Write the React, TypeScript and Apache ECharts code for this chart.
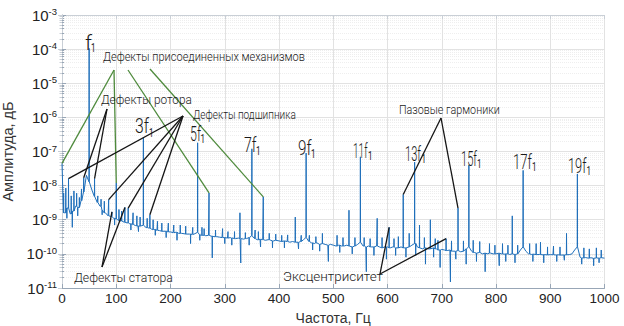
import React, { useEffect, useRef } from "react";
import * as echarts from "echarts";

// Noise floor of the spectrum: [frequency, Hz ; amplitude]
const floorSpectrum: [number, number][] = [
  [0, 4.5e-8], [5, 1.6e-9], [10, 2.2e-9], [15, 1.5e-9], [20, 1.8e-9], [25, 2.5e-9], [30, 2.3e-9],
  [35, 3.6e-9], [40, 6.5e-9], [45, 2.0e-8], [50, 1.3e-8], [55, 7.5e-9], [60, 4.8e-9], [65, 3.2e-9],
  [70, 2.5e-9], [75, 1.9e-9], [80, 1.6e-9], [85, 1.3e-9], [90, 1.25e-9], [95, 1.1e-9], [100, 1.05e-9],
  [105, 9.5e-10], [110, 9.2e-10], [115, 8.4e-10], [120, 8.1e-10], [125, 7.6e-10], [130, 7.3e-10],
  [135, 6.8e-10], [140, 6.6e-10], [145, 6.5e-10], [150, 6.9e-10], [155, 5.9e-10], [160, 5.7e-10],
  [165, 5.3e-10], [170, 5.2e-10], [175, 4.9e-10], [180, 4.8e-10], [185, 4.6e-10], [190, 4.6e-10],
  [195, 4.4e-10], [200, 4.4e-10], [205, 4.2e-10], [210, 4.3e-10], [215, 4.0e-10], [220, 4.0e-10],
  [225, 3.9e-10], [230, 3.8e-10], [235, 3.8e-10], [240, 3.7e-10], [245, 3.9e-10], [250, 4.3e-10],
  [255, 3.6e-10], [260, 3.5e-10], [265, 3.4e-10], [270, 3.5e-10], [275, 3.3e-10], [280, 3.2e-10],
  [285, 3.2e-10], [290, 3.1e-10], [295, 3.0e-10], [300, 3.0e-10], [305, 2.9e-10], [310, 3.0e-10],
  [315, 2.9e-10], [320, 2.8e-10], [325, 2.9e-10], [330, 2.8e-10], [335, 2.7e-10], [340, 2.8e-10],
  [345, 3.0e-10], [350, 3.4e-10], [355, 2.8e-10], [360, 2.6e-10], [365, 2.7e-10], [370, 2.6e-10],
  [375, 2.5e-10], [380, 2.6e-10], [385, 2.5e-10], [390, 2.4e-10], [395, 2.5e-10], [400, 2.4e-10],
  [405, 2.3e-10], [410, 2.4e-10], [415, 2.3e-10], [420, 2.2e-10], [425, 2.3e-10], [430, 2.2e-10],
  [435, 2.2e-10], [440, 2.3e-10], [445, 2.6e-10], [450, 3.0e-10], [455, 2.3e-10], [460, 2.1e-10],
  [465, 2.0e-10], [470, 2.1e-10], [475, 1.9e-10], [480, 2.0e-10], [485, 1.9e-10], [490, 1.8e-10],
  [495, 1.9e-10], [500, 1.8e-10], [505, 1.7e-10], [510, 1.8e-10], [515, 1.7e-10], [520, 1.7e-10],
  [525, 1.8e-10], [530, 1.7e-10], [535, 1.6e-10], [540, 1.7e-10], [545, 1.9e-10], [550, 2.2e-10],
  [555, 1.7e-10], [560, 1.6e-10], [565, 1.7e-10], [570, 1.6e-10], [575, 1.6e-10], [580, 1.7e-10],
  [585, 1.6e-10], [590, 1.5e-10], [595, 1.6e-10], [600, 1.6e-10], [605, 1.5e-10], [610, 1.6e-10],
  [615, 1.5e-10], [620, 1.5e-10], [625, 1.6e-10], [630, 1.5e-10], [635, 1.5e-10], [640, 1.6e-10],
  [645, 1.8e-10], [650, 2.0e-10], [655, 1.6e-10], [660, 1.5e-10], [665, 1.4e-10], [670, 1.5e-10],
  [675, 1.4e-10], [680, 1.4e-10], [685, 1.5e-10], [690, 1.4e-10], [695, 1.3e-10], [700, 1.35e-10],
  [705, 1.3e-10], [710, 1.25e-10], [715, 1.3e-10], [720, 1.2e-10], [725, 1.2e-10], [730, 1.25e-10],
  [735, 1.15e-10], [740, 1.2e-10], [745, 1.4e-10], [750, 1.6e-10], [755, 1.2e-10], [760, 1.1e-10],
  [765, 1.05e-10], [770, 1.1e-10], [775, 1.0e-10], [780, 1.05e-10], [785, 1.0e-10], [790, 1.05e-10],
  [795, 1.0e-10], [800, 1.0e-10], [805, 1.05e-10], [810, 1.0e-10], [815, 9.8e-11], [820, 1.0e-10],
  [825, 9.6e-11], [830, 1.0e-10], [835, 9.6e-11], [840, 1.0e-10], [845, 1.3e-10], [850, 1.6e-10],
  [855, 1.2e-10], [860, 1.0e-10], [865, 9.6e-11], [870, 9.8e-11], [875, 9.5e-11], [880, 9.6e-11],
  [885, 9.4e-11], [890, 9.5e-11], [895, 9.3e-11], [900, 9.5e-11], [905, 9.4e-11], [910, 9.3e-11],
  [915, 9.4e-11], [920, 9.2e-11], [925, 9.3e-11], [930, 9.4e-11], [935, 9.5e-11], [940, 1.0e-10],
  [945, 1.3e-10], [950, 1.6e-10], [955, 8.0e-11], [960, 7.6e-11], [965, 7.8e-11], [970, 7.5e-11],
  [975, 7.7e-11], [980, 7.4e-11], [985, 7.6e-11], [990, 7.5e-11], [995, 7.7e-11], [1000, 7.5e-11],
];

// Odd harmonics of the supply frequency f1 = 50 Hz
const harmonicPeaks: [number, number][] = [
  [50, 1.05e-4], [150, 2.6e-7], [250, 1.8e-7], [350, 1.2e-7], [450, 9e-8],
  [550, 7e-8], [650, 4.9e-8], [750, 4e-8], [850, 2.8e-8], [950, 2.2e-8],
];
const harmonicNames = ["f", "3f", "5f", "7f", "9f", "11f", "13f", "15f", "17f", "19f"];

// Defect-related components
const defectPeaks: [number, number][] = [
  [12, 1.6e-8], [40, 1.7e-8], [60, 1.6e-8], [86, 3.9e-9], [92, 1.7e-9], [100, 1.2e-8],
  [116, 2.3e-9], [122, 2.2e-9], [162, 1.4e-9], [271, 6.1e-9], [328, 1.6e-9], [371, 4.7e-9],
  [430, 1.2e-9], [529, 1.9e-9], [581, 1.1e-9], [603, 6e-10], [629, 5.5e-9], [659, 7e-10],
  [679, 1e-9], [708, 2.8e-10], [730, 2.2e-9], [830, 1.3e-9], [930, 4e-10],
];

// Small noise components (upward)
const noisePeaks: [number, number][] = [
  [3, 6e-9], [7, 8.5e-9], [17, 5e-9], [22, 7e-9], [27, 6e-9], [32, 4.5e-9], [36, 8e-9],
  [66, 5e-9], [72, 4e-9], [78, 3.5e-9], [105, 2e-9], [110, 1.8e-9], [131, 1.6e-9], [138, 1.3e-9],
  [144, 1.2e-9], [157, 1.1e-9], [168, 1e-9], [176, 9e-10], [184, 8e-10], [196, 8e-10],
  [206, 7e-10], [218, 7e-10], [228, 6.5e-10], [241, 6e-10], [258, 6e-10], [262, 5.5e-10],
  [283, 5e-10], [296, 5.5e-10], [306, 4.5e-10], [318, 4.5e-10], [338, 4.2e-10], [356, 5e-10],
  [362, 4.5e-10], [382, 4e-10], [394, 3.8e-10], [405, 3.5e-10], [416, 3.6e-10], [441, 3.5e-10],
  [456, 3.5e-10], [468, 3.2e-10], [480, 4e-10], [507, 3.5e-10], [518, 3e-10], [540, 3e-10],
  [557, 3e-10], [568, 2.8e-10], [590, 3e-10], [612, 2.8e-10], [620, 3.2e-10], [640, 4e-10],
  [668, 3e-10], [688, 2.8e-10], [693, 2.5e-10], [718, 2.4e-10], [740, 2.4e-10], [758, 2.5e-10],
  [770, 2.3e-10], [788, 2e-10], [798, 1.8e-10], [812, 2e-10], [822, 1.8e-10], [840, 1.8e-10],
  [862, 2e-10], [874, 2e-10], [882, 2.2e-10], [895, 1.6e-10], [906, 1.7e-10], [918, 1.6e-10],
  [962, 1.5e-10], [972, 1.4e-10], [985, 1.5e-10], [994, 1.3e-10],
];

// Small noise components (downward)
const noiseDips: [number, number][] = [
  [9, 1.1e-9], [19, 6e-10], [29, 1.3e-9], [74, 1.4e-9], [97, 7e-10], [127, 5e-10], [141, 4.5e-10],
  [172, 3.5e-10], [192, 3e-10], [212, 2.5e-10], [237, 2e-10], [254, 2.5e-10], [277, 7.6e-11],
  [300, 2e-10], [313, 1.8e-10], [329.5, 5.4e-11], [345, 1.8e-10], [366, 1.6e-10], [388, 1.5e-10],
  [410, 1.5e-10], [436, 1.4e-10], [462, 1.3e-10], [475, 1.2e-10], [491, 6e-11], [512, 1.1e-10],
  [535, 1e-10], [561, 3e-11], [575, 9e-11], [598, 7e-11], [615, 9e-11], [634, 8e-11], [652, 9e-11],
  [670, 5e-11], [685, 8e-11], [697, 4e-11], [716, 1.5e-11], [726, 7e-11], [745, 5e-11],
  [764, 6e-11], [780, 3e-11], [806, 4.5e-11], [818, 6e-11], [835, 5.5e-11], [868, 6e-11],
  [888, 5.5e-11], [912, 6e-11], [926, 6.5e-11], [958, 5e-11], [980, 4.5e-11], [990, 5.5e-11],
];

const xMin = 0;
const xMax = 1000;
const xStep = 100;
const yMin = 1e-11;
const yMax = 1e-3;

const AX_FONT = "'Liberation Sans', Arial, sans-serif";
const ANN_FONT = "Roboto, 'Noto Sans', sans-serif";
const BLUE = "#1f6fba";
const GREEN = "#4e8a3c";
const BLACK = "#151515";

function buildSpectrum(): [number, number][] {
  const marks = [...harmonicPeaks, ...defectPeaks, ...noisePeaks, ...noiseDips];
  const nearestFloor = (f: number) => {
    let best = floorSpectrum[0];
    for (const p of floorSpectrum) if (Math.abs(p[0] - f) < Math.abs(best[0] - f)) best = p;
    return best[1];
  };
  const pts: [number, number][] = floorSpectrum.filter(
    ([f]) => !marks.some(([m]) => Math.abs(m - f) < 0.6)
  );
  for (const [f, v] of marks) {
    const b = nearestFloor(f);
    pts.push([Math.max(0, f - 0.3), b], [f, v], [f + 0.3, b]);
  }
  pts.sort((a, b) => a[0] - b[0]);
  return pts;
}

function markValue(f: number): number {
  const all = [...harmonicPeaks, ...defectPeaks, ...floorSpectrum];
  const m = all.find((p) => p[0] === f);
  return m ? m[1] : 1e-9;
}

let measureCtx: CanvasRenderingContext2D | null = null;
function textWidth(t: string, size: number, family: string, weight: number | string) {
  if (!measureCtx) measureCtx = document.createElement("canvas").getContext("2d");
  if (!measureCtx) return t.length * size * 0.5;
  measureCtx.font = `${weight} ${size}px ${family}`;
  return measureCtx.measureText(t).width;
}

function fitText(text: string, left: number, cy: number, width: number, size: number, weight: number | string = 300): any {
  const w = textWidth(text, size, ANN_FONT, weight);
  return {
    type: "text",
    x: left,
    y: cy,
    scaleX: width / w,
    silent: true,
    z: 120,
    style: {
      text,
      x: 0,
      y: 0,
      fill: "#1a1a1a",
      fontSize: size,
      fontFamily: ANN_FONT,
      fontWeight: weight,
      align: "left",
      verticalAlign: "middle",
      textAlign: "left",
      textVerticalAlign: "middle",
    },
  };
}

// Layout of harmonic labels (pixel boxes)
const harmonicLabelBoxes = [
  { left: 85, top: 34, bottom: 49, width: 7, subLeft: 91, subBottom: 52 },
  { left: 135, top: 118, bottom: 133, width: 14, subLeft: 149, subBottom: 137 },
  { left: 190, top: 125, bottom: 140, width: 11, subLeft: 200.5, subBottom: 143 },
  { left: 244, top: 136, bottom: 151, width: 12.5, subLeft: 256, subBottom: 155 },
  { left: 298, top: 139, bottom: 155, width: 13.5, subLeft: 311, subBottom: 158 },
  { left: 353, top: 142, bottom: 157, width: 14.5, subLeft: 368, subBottom: 160 },
  { left: 405, top: 145, bottom: 160, width: 16, subLeft: 421.5, subBottom: 163 },
  { left: 461, top: 149, bottom: 165, width: 16, subLeft: 477, subBottom: 168 },
  { left: 513, top: 153, bottom: 168, width: 19, subLeft: 532, subBottom: 171 },
  { left: 568, top: 157, bottom: 172, width: 18.5, subLeft: 586.5, subBottom: 175 },
];

export default function App() {
  const ref = useRef<HTMLDivElement>(null);

  useEffect(() => {
    if (!ref.current) return;
    const chart = echarts.init(ref.current, undefined, { renderer: "svg" });

    const axisColor = "#98a6b6";
    const labelColor = "#222";
    const nameColor = "#333";

    chart.setOption({
      animation: false,
      backgroundColor: "#fff",
      textStyle: { fontFamily: AX_FONT },
      grid: { left: 62, right: 19.5, top: 15, bottom: 38, containLabel: false, outerBoundsMode: "none" },
      xAxis: [
        {
          type: "value",
          min: xMin,
          max: xMax,
          interval: xStep,
          name: "Частота, Гц",
          nameLocation: "middle",
          nameGap: 23,
          nameTextStyle: { fontSize: 14, color: nameColor, fontFamily: AX_FONT, fontWeight: "normal" },
          axisLine: { show: true, lineStyle: { color: axisColor, width: 1 } },
          axisTick: { show: true, inside: true, length: 4, lineStyle: { color: axisColor } },
          axisLabel: {
            fontSize: 13.5,
            color: labelColor,
            margin: 3,
            fontFamily: AX_FONT,
            formatter: (v: number) => String(v),
          },
          splitLine: { show: true, lineStyle: { color: "#e2e2e2", width: 1 } },
        },
        {
          type: "value",
          position: "top",
          min: xMin,
          max: xMax,
          interval: xStep,
          axisLine: { show: true, lineStyle: { color: "#c9cfd6", width: 1 } },
          axisTick: { show: true, inside: true, length: 4, lineStyle: { color: "#c9cfd6" } },
          axisLabel: { show: false },
          splitLine: { show: false },
        },
      ],
      yAxis: [
        {
          type: "log",
          logBase: 10,
          min: yMin,
          max: yMax,
          splitNumber: 8,
          name: "Амплитуда, дБ",
          nameLocation: "middle",
          nameGap: 35,
          nameTextStyle: { fontSize: 14.5, color: nameColor, fontFamily: AX_FONT, fontWeight: "normal" },
          axisLine: { show: true, lineStyle: { color: axisColor, width: 1 } },
          axisTick: { show: true, inside: true, length: 4, lineStyle: { color: axisColor } },
          minorTick: { show: true, splitNumber: 9, length: 2, lineStyle: { color: axisColor } },
          minorSplitLine: { show: true, lineStyle: { color: "#eeeeee", type: "dotted" } },
          axisLabel: {
            margin: 5,
            formatter: (v: number) => `{b|10}{s|${Math.round(Math.log10(v))}}`,
            rich: {
              b: { fontSize: 15, color: labelColor, fontFamily: AX_FONT, lineHeight: 17 },
              s: { fontSize: 9.5, color: labelColor, fontFamily: AX_FONT, verticalAlign: "top", lineHeight: 10 },
            },
          },
          splitLine: { show: true, lineStyle: { color: "#e2e2e2", width: 1 } },
        },
        {
          type: "log",
          logBase: 10,
          min: yMin,
          max: yMax,
          splitNumber: 8,
          position: "right",
          axisLine: { show: true, lineStyle: { color: "#c9cfd6", width: 1 } },
          axisTick: { show: true, inside: true, length: 4, lineStyle: { color: "#c9cfd6" } },
          minorTick: { show: true, splitNumber: 9, length: 2.5, lineStyle: { color: "#c9cfd6" } },
          axisLabel: { show: false },
          splitLine: { show: false },
        },
      ],
      series: [
        {
          type: "line",
          xAxisIndex: 0,
          yAxisIndex: 0,
          data: buildSpectrum(),
          showSymbol: false,
          symbol: "none",
          lineStyle: { color: BLUE, width: 1 },
          z: 5,
        },
      ],
    });

    const px = (f: number, v: number) =>
      chart.convertToPixel({ xAxisIndex: 0, yAxisIndex: 0 }, [f, v]) as number[];

    const line = (x1: number, y1: number, x2: number, y2: number, color: string): any => ({
      type: "line",
      silent: true,
      z: 110,
      shape: { x1, y1, x2, y2 },
      style: { stroke: color, lineWidth: 1.3 },
    });
    const toMark = (from: [number, number], f: number, color: string) => {
      const p = px(f, markValue(f));
      return line(from[0], from[1], p[0], p[1], color);
    };

    const g: any[] = [];
    // attached mechanisms (green)
    g.push(toMark([114, 70], 0, GREEN));
    g.push(toMark([114, 70], 100, GREEN));
    g.push(toMark([128, 70], 271, GREEN));
    g.push(toMark([150, 69], 371, GREEN));
    // rotor
    g.push(toMark([107, 109], 40, BLACK));
    g.push(toMark([107, 109], 60, BLACK));
    // bearing
    [12, 86, 122, 162].forEach((f) => g.push(toMark([183, 116], f, BLACK)));
    // stator
    [92, 116].forEach((f) => g.push(toMark([102, 267], f, BLACK)));
    // eccentricity
    [603, 708].forEach((f) => g.push(toMark([380, 274], f, BLACK)));
    // slot harmonics
    [629, 730].forEach((f) => g.push(toMark([441, 118], f, BLACK)));

    g.push(fitText("Дефекты присоединенных механизмов", 103, 57, 202, 13));
    g.push(fitText("Дефекты ротора", 101, 99, 91, 13));
    g.push(fitText("Дефекты подшипника", 193, 115, 103, 13));
    g.push(fitText("Дефекты статора", 74, 277, 99, 13));
    g.push(fitText("Эксцентриситет", 283, 277, 100, 13));
    g.push(fitText("Пазовые гармоники", 399, 110, 101, 13));

    harmonicNames.forEach((name, i) => {
      const b = harmonicLabelBoxes[i];
      g.push(fitText(name, b.left, (b.top + b.bottom) / 2 + 1, b.width, 21));
      g.push(fitText("1", b.subLeft, b.subBottom - 4, 4.5, 12, 400));
    });

    chart.setOption({ graphic: g });

    return () => chart.dispose();
  }, []);

  return (
    <div
      ref={ref}
      style={{ position: "absolute", left: 0, top: 0, width: 624, height: 326, background: "#fff" }}
    />
  );
}
